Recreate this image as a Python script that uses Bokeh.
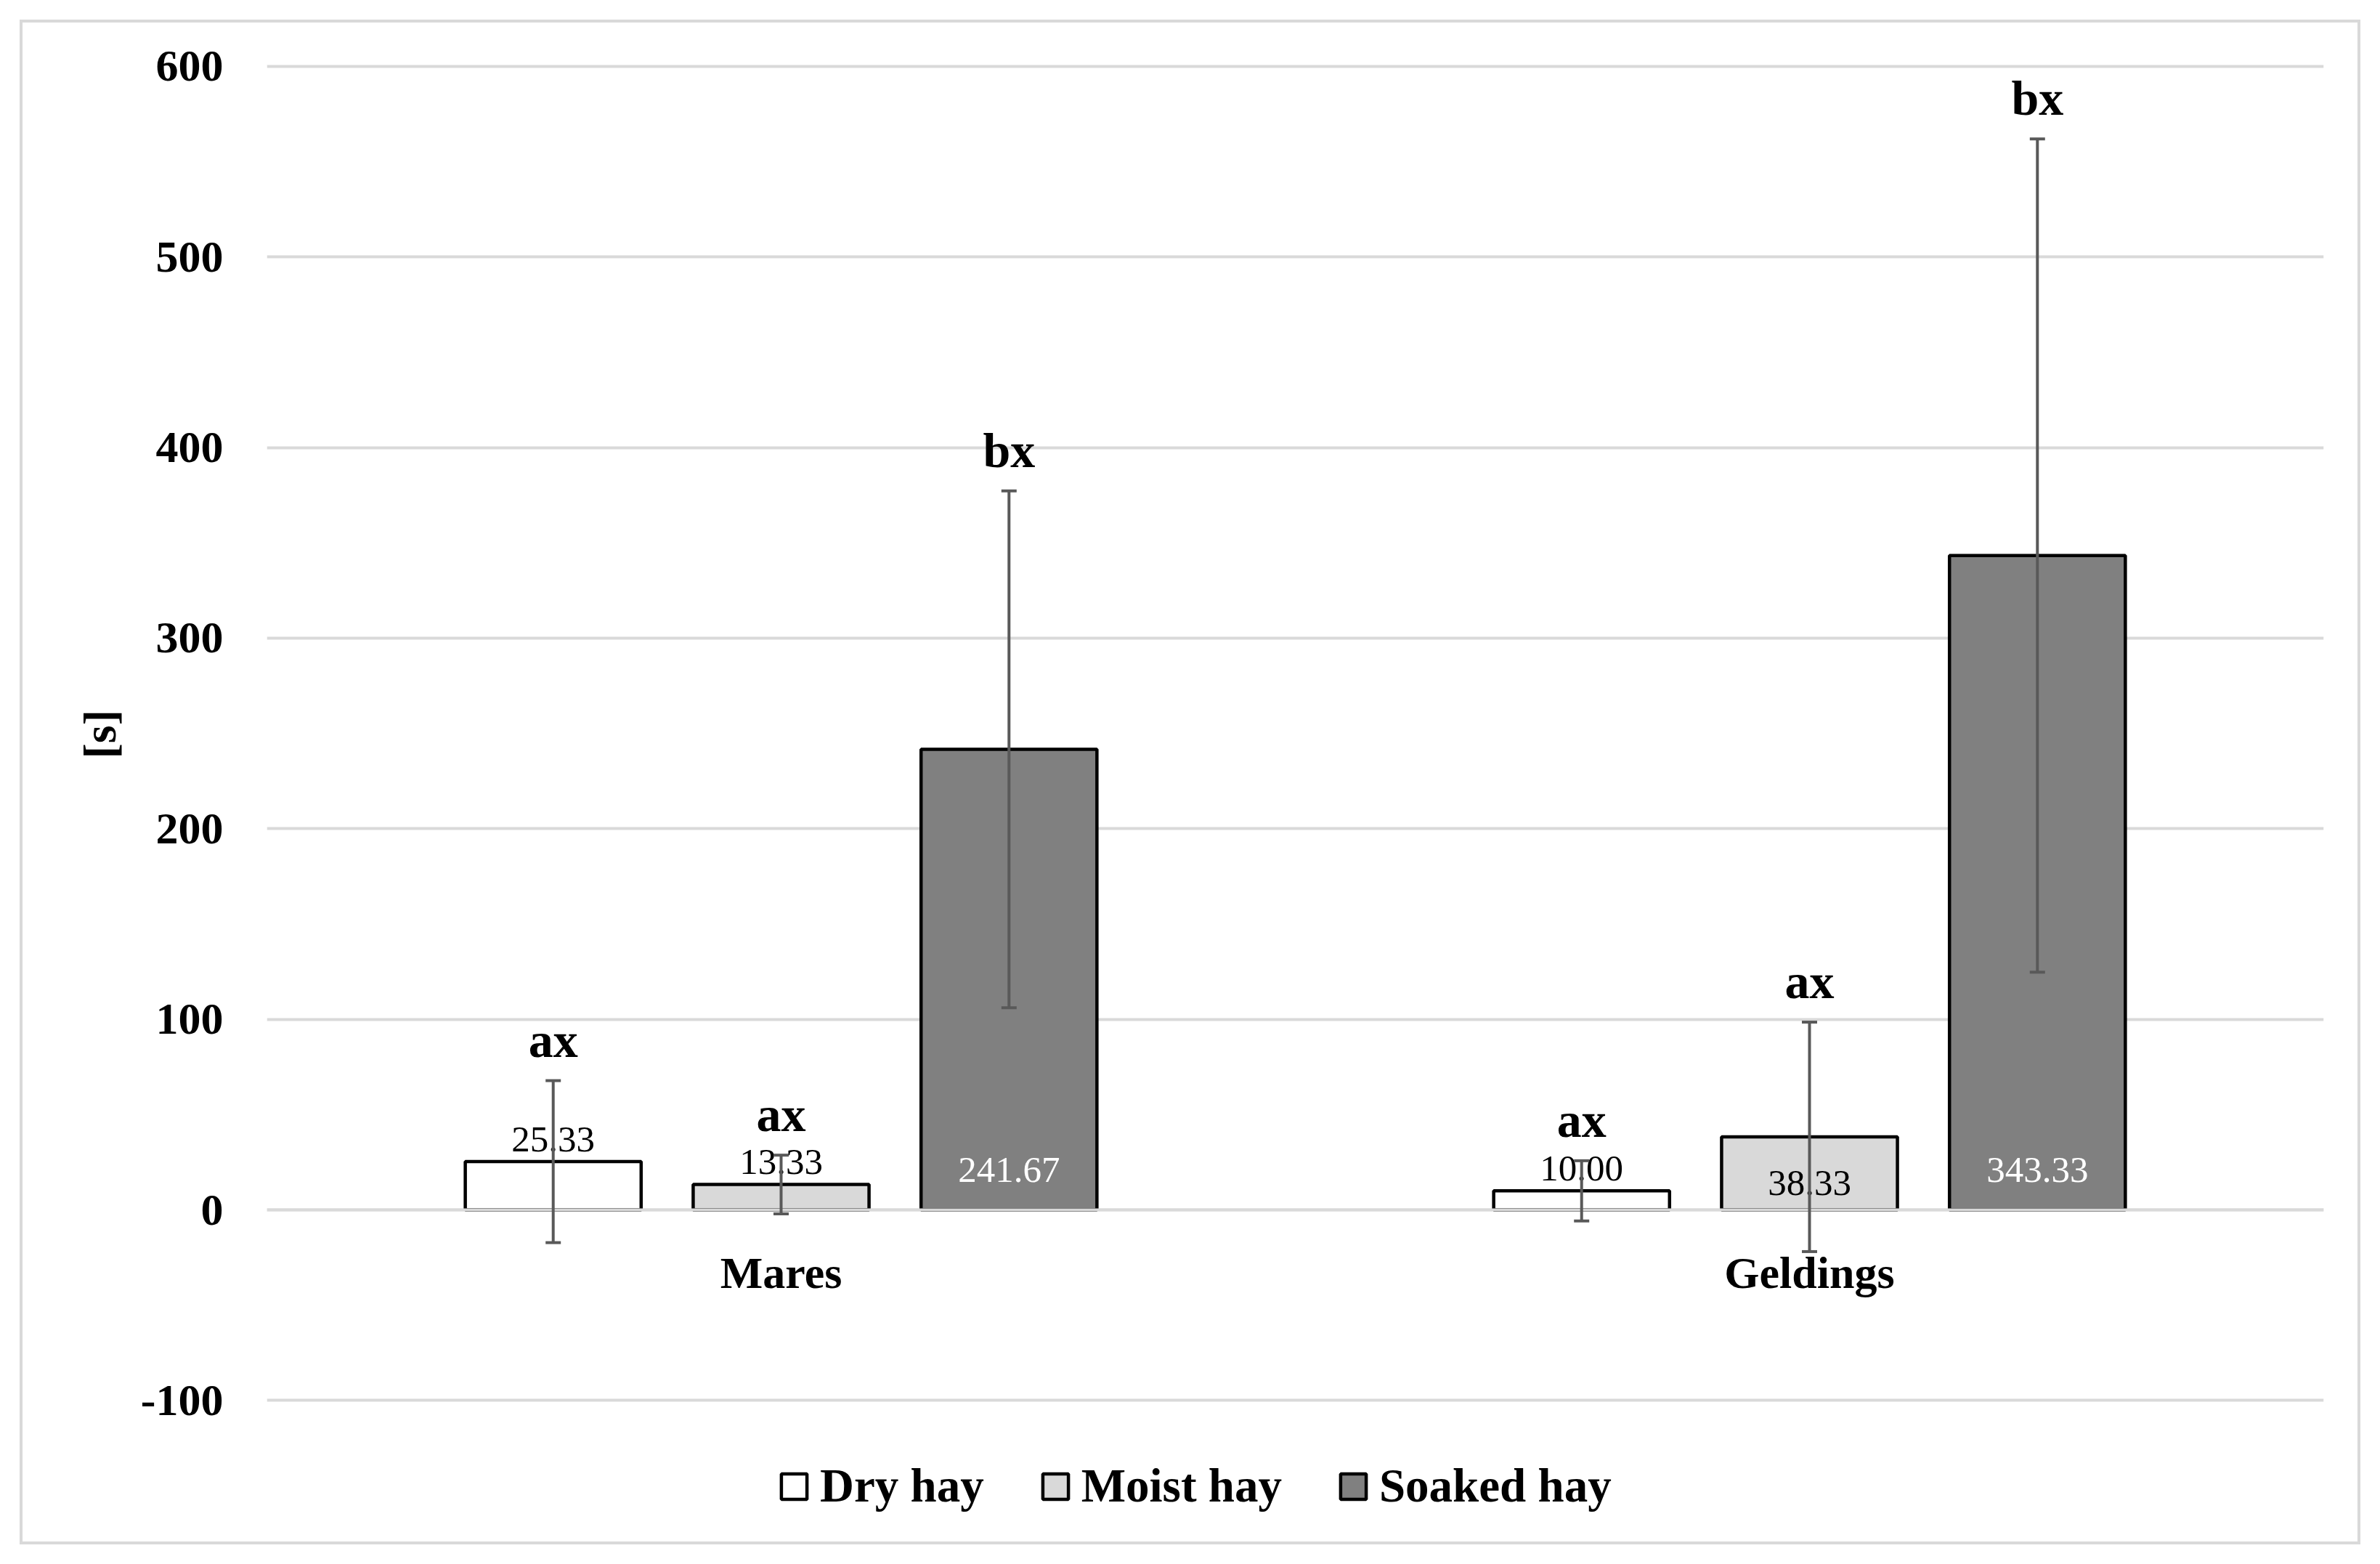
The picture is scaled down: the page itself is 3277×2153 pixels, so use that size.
from bokeh.plotting import figure
from bokeh.models import (ColumnDataSource, FactorRange, Range1d, FixedTicker, Whisker,
                          TeeHead, Legend, LegendItem, Span, Title)
from bokeh.transform import dodge
from bokeh.core.properties import value
from bokeh.embed import file_html
from bokeh.resources import INLINE

# ---------------- data ----------------
groups = ["Mares", "Geldings"]
treatments = ["Dry hay", "Moist hay", "Soaked hay"]
dry_mean = [25.33, 10.00]
moist_mean = [13.33, 38.33]
soaked_mean = [241.67, 343.33]
dry_sd = [42.5, 15.8]
moist_sd = [15.4, 60.2]
soaked_sd = [135.6, 218.6]
dry_letters = ["ax", "ax"]
moist_letters = ["ax", "ax"]
soaked_letters = ["bx", "bx"]
y_ticks = [-100, 0, 100, 200, 300, 400, 500, 600]
y_title = "[s]"

means = [dry_mean, moist_mean, soaked_mean]
sds = [dry_sd, moist_sd, soaked_sd]
letters = [dry_letters, moist_letters, soaked_letters]

# ---------------- style ----------------
fills = ["#ffffff", "#d9d9d9", "#808080"]
label_colors = ["#000000", "#000000", "#ffffff"]
label_modes = [["end", "end"], ["end", "center"], ["base", "base"]]
offsets = [-0.2216, 0.0, 0.2216]
bar_w = 0.171
FONT = "Liberation Serif"

W, H = 3277, 2153
# the frame is extended below -100 so that the legend can sit inside it
p = figure(width=W, height=H, output_backend="svg", toolbar_location=None,
           x_range=FactorRange(*groups, range_padding=0), y_range=Range1d(-169.6, 601.5),
           min_border_left=367, min_border_right=78, min_border_top=87, min_border_bottom=43)
p.outline_line_color = None
p.background_fill_color = "white"
p.border_fill_alpha = 0
p.styles = {"outline": "4px solid #d9d9d9", "outline-offset": "-31px",
            "background-color": "white"}

p.ygrid.ticker = FixedTicker(ticks=y_ticks)
p.ygrid.grid_line_color = "#d9d9d9"
p.ygrid.grid_line_width = 4
p.xgrid.visible = False

ya = p.yaxis[0]
ya.ticker = FixedTicker(ticks=y_ticks)
ya.bounds = (y_ticks[0], y_ticks[-1])
ya.major_label_overrides = {t: str(t) for t in y_ticks}
ya.axis_line_color = None
ya.major_tick_line_color = None
ya.minor_tick_line_color = None
ya.major_tick_out = 0
ya.major_label_standoff = 60
ya.major_label_text_font = FONT
ya.major_label_text_font_size = "62px"
ya.major_label_text_font_style = "bold"
ya.major_label_text_color = "black"

# y-axis title, placed at the middle of the -100..600 span (frame reaches lower for the legend)
p.add_layout(Title(text=y_title, align="left", offset=1066, standoff=36,
                   text_font=FONT, text_font_size="64px", text_font_style="bold",
                   text_color="black"), "left")

p.xaxis.visible = False

legend_items = []
for k, t in enumerate(treatments):
    m = means[k]
    s = sds[k]
    ly, loff = [], []
    for j, mode in enumerate(label_modes[k]):
        if mode == "end":
            ly.append(m[j]); loff.append(-31)
        elif mode == "base":
            ly.append(0); loff.append(-55)
        else:
            ly.append(m[j] / 2); loff.append(13)
    src = ColumnDataSource(dict(
        g=groups, mean=m,
        upper=[a + b for a, b in zip(m, s)],
        lower=[a - b for a, b in zip(m, s)],
        lab=[f"{v:.2f}" for v in m],
        letter=letters[k], ly=ly, loff=loff,
    ))
    xd = dodge("g", offsets[k], range=p.x_range)
    r = p.vbar(x=xd, top="mean", bottom=0, width=bar_w, source=src,
               fill_color=fills[k], line_color="black", line_width=4.5)
    legend_items.append(LegendItem(label=t, renderers=[r]))

    p.text(x=xd, y="ly", text="lab", source=src, y_offset="loff",
           text_align="center", text_baseline="alphabetic",
           text_font=value(FONT), text_font_size="51px", text_color=label_colors[k])
    p.text(x=xd, y="upper", text="letter", source=src, y_offset=-56,
           text_align="center", text_baseline="alphabetic",
           text_font=value(FONT), text_font_size="68px", text_font_style="bold",
           text_color="black")

    wk = Whisker(source=src, base=xd, upper="upper", lower="lower",
                 line_color="#595959", line_width=4, level="annotation")
    wk.upper_head = TeeHead(size=21, line_color="#595959", line_width=4)
    wk.lower_head = TeeHead(size=21, line_color="#595959", line_width=4)
    p.add_layout(wk)

zero = Span(location=0, dimension="width", line_color="#d9d9d9", line_width=4, level="glyph")
p.add_layout(zero)

# category labels just below the zero line (the category axis crosses at 0)
cat_src = ColumnDataSource(dict(g=groups, y0=[0] * len(groups)))
p.text(x="g", y="y0", text="g", source=cat_src, y_offset=86,
       text_align="center", text_baseline="alphabetic",
       text_font=value(FONT), text_font_size="62px", text_font_style="bold",
       text_color="black")

legend = Legend(items=legend_items, orientation="horizontal", location=(704, 27),
                glyph_width=44, glyph_height=44, label_standoff=14, spacing=76,
                padding=0, margin=0, border_line_color=None, background_fill_alpha=0,
                label_text_font=FONT, label_text_font_size="65px",
                label_text_font_style="bold", label_text_color="black")
p.add_layout(legend, "center")

open("out.html", "w").write(file_html(p, INLINE))
